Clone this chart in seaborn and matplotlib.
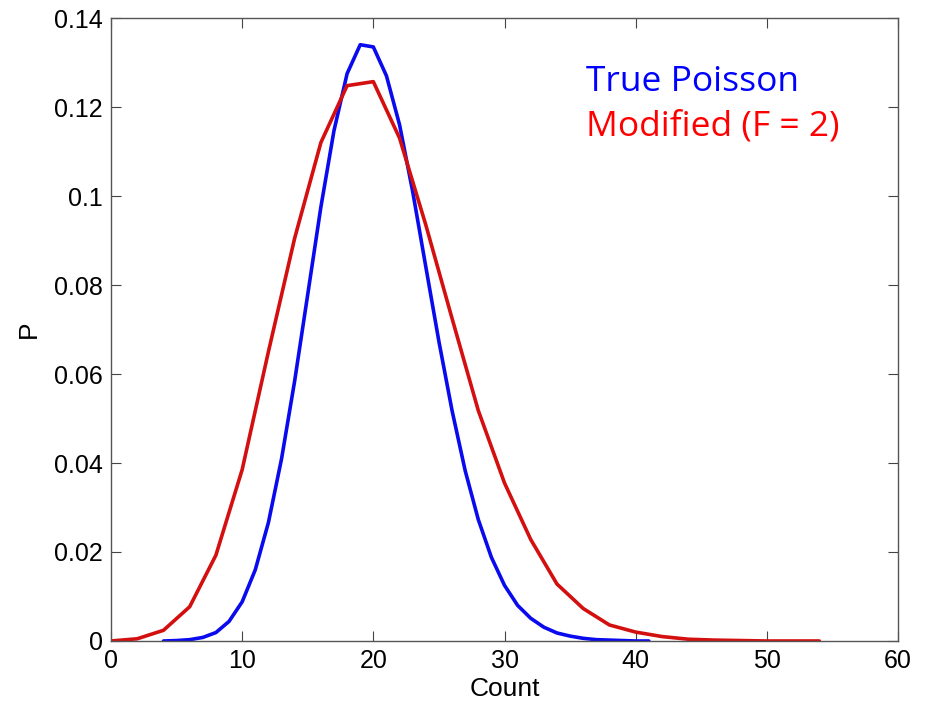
import matplotlib
matplotlib.use("Agg")
import matplotlib.pyplot as plt
import seaborn as sns
import pandas as pd

# values
poisson_count = list(range(4, 42))
poisson_p = [
    0.0000, 0.0001, 0.0003, 0.0008, 0.0019, 0.0044, 0.0088, 0.0160,
    0.0266, 0.0409, 0.0584, 0.0779, 0.0975, 0.1147, 0.1275, 0.1340,
    0.1335, 0.1270, 0.1160, 0.1010, 0.0841, 0.0673, 0.0518, 0.0383,
    0.0273, 0.0188, 0.0125, 0.0080, 0.0051, 0.0031, 0.0018, 0.0011,
    0.0006, 0.0003, 0.0002, 0.0001, 0.0000, 0.0000,
]
modified_count = list(range(0, 56, 2))
modified_p = [
    0.0000, 0.0005, 0.0024, 0.0077, 0.0193, 0.0385, 0.0650, 0.0905,
    0.1120, 0.1248, 0.1257, 0.1130, 0.0935, 0.0725, 0.0518, 0.0355,
    0.0228, 0.0128, 0.0073, 0.0036, 0.0020, 0.0010, 0.0004, 0.0002,
    0.0001, 0.0000, 0.0000, 0.0000,
]
series_names = ["True Poisson", "Modified (F = 2)"]
series_colors = ["#0000ff", "#ff0000"]
line_colors = ["#0a0aee", "#d40f0f"]

x_ticks = [0, 10, 20, 30, 40, 50, 60]
y_ticks = [0, 0.02, 0.04, 0.06, 0.08, 0.10, 0.12, 0.14]
y_tick_labels = ["0", "0.02", "0.04", "0.06", "0.08", "0.1", "0.12", "0.14"]

df = pd.concat([
    pd.DataFrame({"Count": poisson_count, "P": poisson_p, "series": series_names[0]}),
    pd.DataFrame({"Count": modified_count, "P": modified_p, "series": series_names[1]}),
])

sns.set_style("ticks")
plt.rcParams["font.family"] = ["Liberation Sans", "DejaVu Sans"]

fig = plt.figure(figsize=(9.28, 7.01), dpi=100)
ax = fig.add_axes([0.1196, 0.0856, 0.8481, 0.8887])

sns.lineplot(
    data=df, x="Count", y="P", hue="series",
    palette=dict(zip(series_names, line_colors)),
    linewidth=2.6, legend=False, ax=ax, sort=False,
)

ax.set_xlim(0, 60)
ax.set_ylim(0, 0.14)
ax.set_xticks(x_ticks)
ax.set_yticks(y_ticks)
ax.set_yticklabels(y_tick_labels)
ax.set_xlabel("Count", fontsize=19, labelpad=3, color="black")
ax.set_ylabel("P", fontsize=19, labelpad=9, color="black")
ax.tick_params(direction="in", length=7, width=0.8, labelsize=18,
               top=True, right=True, color="#444444", labelcolor="black", pad=6)
for s in ax.spines.values():
    s.set_visible(True)
    s.set_color("#555555")
    s.set_linewidth(1.0)

# legend as plain coloured text, like the reference
ax.text(36.2, 0.1235, series_names[0], color=series_colors[0],
        fontsize=25.5, family=["Open Sans", "DejaVu Sans"])
ax.text(36.2, 0.1135, series_names[1], color=series_colors[1],
        fontsize=25.5, family=["Open Sans", "DejaVu Sans"])

fig.savefig("out.png", dpi=100)
